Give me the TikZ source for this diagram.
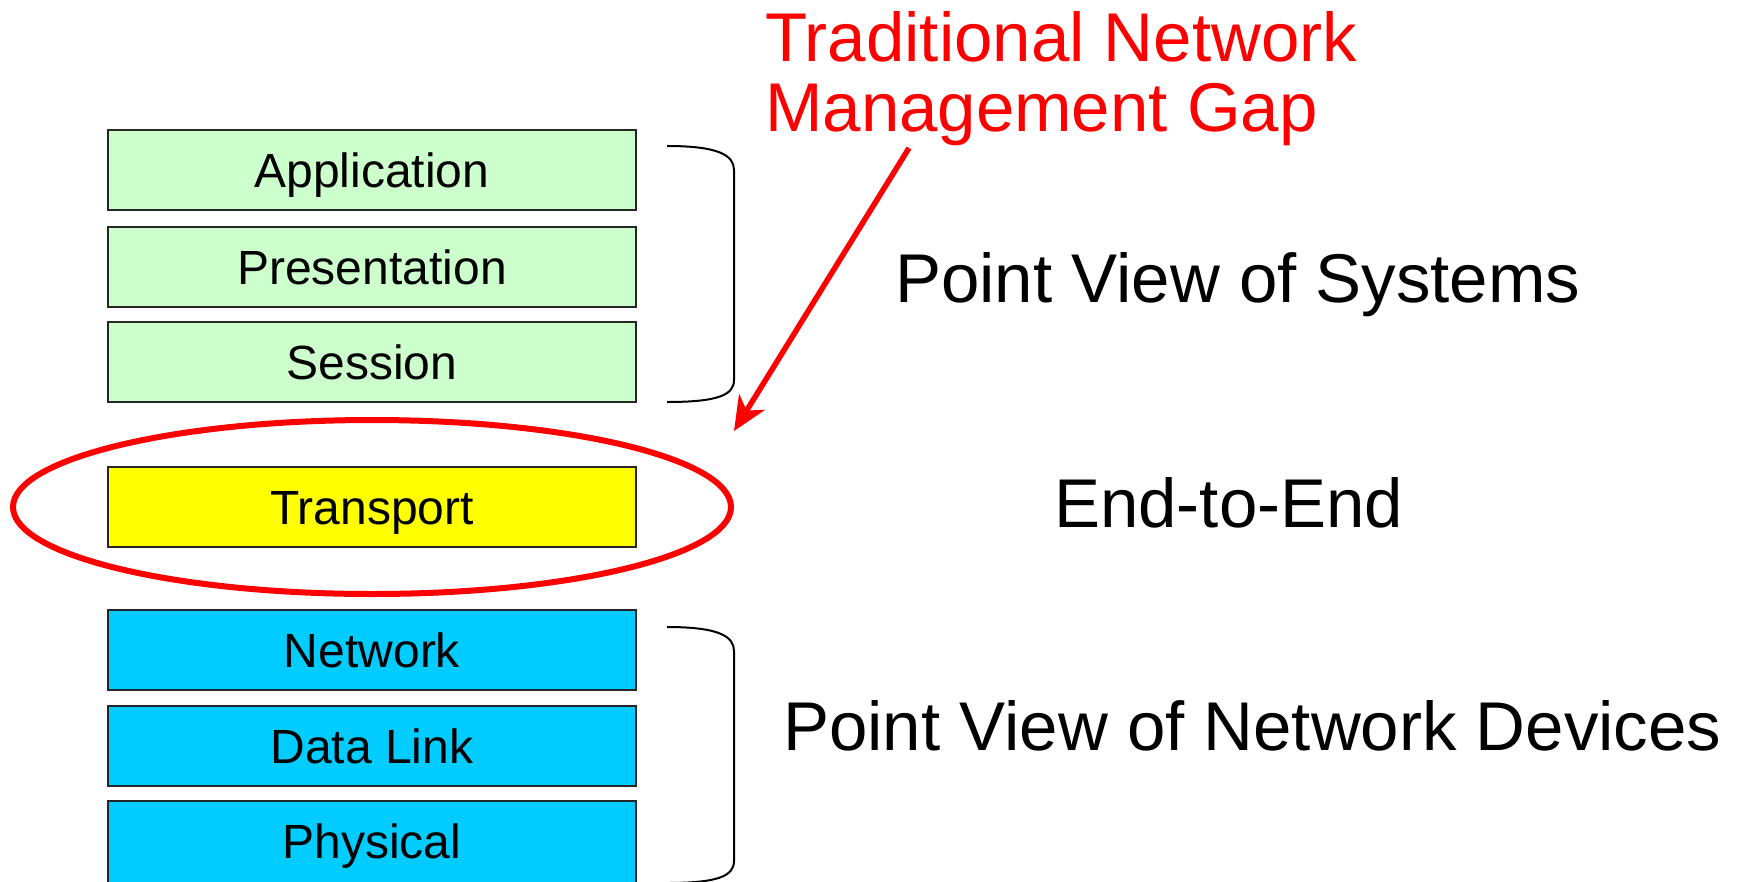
\documentclass[tikz,border=0pt]{standalone}
\usepackage{fontspec}
\setmainfont{Liberation Sans}
\usetikzlibrary{shapes.geometric,arrows.meta}
\definecolor{lgreen}{HTML}{CCFFCC}
\definecolor{lblue}{HTML}{00CCFF}
\definecolor{lyellow}{HTML}{FFFF00}
\definecolor{lred}{HTML}{FF0000}
\tikzset{
  layer/.style={draw=black!85, line width=2, minimum width=528, minimum height=80, inner sep=0,
    text height=34.4, text depth=0, font=\fontsize{48}{58}\selectfont},
  upper/.style={layer, fill=lgreen},
  lower/.style={layer, fill=lblue},
  mid/.style={layer, fill=lyellow},
  bigtext/.style={anchor=base west, inner sep=0, font=\fontsize{69}{80}\selectfont},
  redtext/.style={bigtext, text=lred},
  brace/.style={draw=black, line width=2},
}
\begin{document}
\begin{tikzpicture}[x=1pt,y=-1pt]
\useasboundingbox (0,0) rectangle (1743,881);
\node[upper] (app) at (372,170) {Application};
\node[upper] (pres) at (372,267) {Presentation};
\node[upper] (sess) at (372,362) {Session};
\node[mid] (trans) at (372,507) {Transport};
\node[lower] (net) at (372,650) {Network};
\node[lower] (dl) at (372,746) {Data Link};
\node[lower, minimum height=96] (phy) at (372,849) {\raisebox{8pt}{Physical}};
\node[ellipse, draw=lred, line width=6, minimum width=718, minimum height=174, inner sep=0] (gap) at (372,507) {};
\draw[brace] (667,146) .. controls (718,146) and (734,155) .. (734,170) -- (734,380) .. controls (734,395) and (718,402) .. (667,402);
\draw[brace] (667,627) .. controls (718,627) and (734,636) .. (734,651) -- (734,861) .. controls (734,876) and (718,883) .. (667,883);
\node[redtext] (t1) at (765,61) {Traditional Network};
\node[redtext] (t2) at (765,131) {Management Gap};
\coordinate (gaptail) at (909,148);
\coordinate (gaptip) at (734,431);
\draw[draw=lred, line width=5.5, -{Stealth[length=34, width=30, inset=10]}] (gaptail) -- (gaptip);
\node[bigtext] (sys) at (895,302) {Point View of Systems};
\node[bigtext] (e2e) at (1054,527) {End-to-End};
\node[bigtext] (dev) at (783,750) {Point View of Network Devices};
\end{tikzpicture}
\end{document}
